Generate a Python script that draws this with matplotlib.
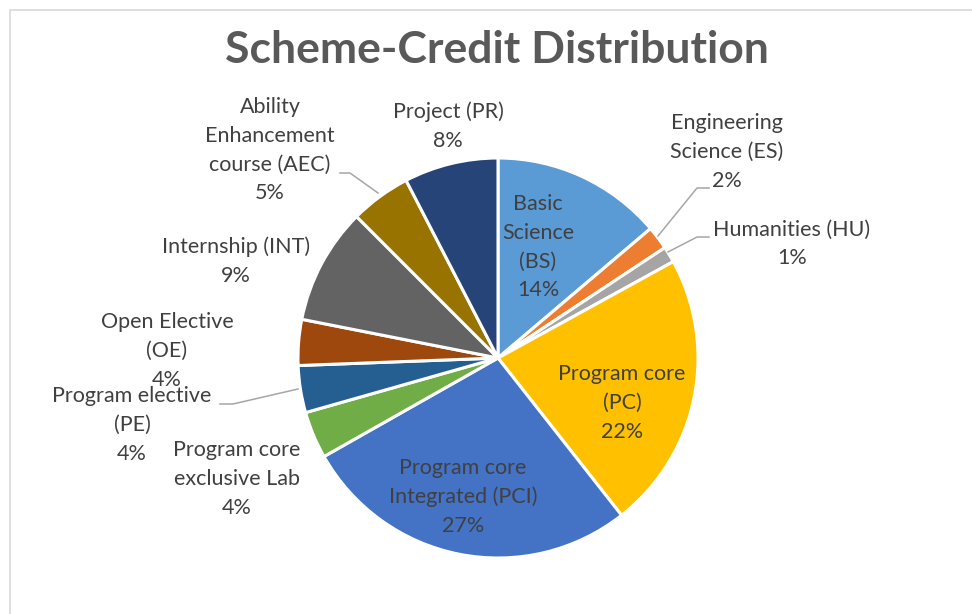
import matplotlib
matplotlib.use("Agg")
import matplotlib.pyplot as plt
from matplotlib.patches import Rectangle

# ---- data ----
categories = ["Basic\nScience\n(BS)", "Engineering\nScience (ES)", "Humanities (HU)",
              "Program core\n(PC)", "Program core\nIntegrated (PCI)",
              "Program core\nexclusive Lab", "Program elective\n(PE)",
              "Open Elective\n(OE)", "Internship (INT)",
              "Ability\nEnhancement\ncourse (AEC)", "Project (PR)"]
shares = [13.8, 1.9, 1.3, 22.4, 27.4, 3.8, 3.8, 3.7, 9.4, 4.9, 7.6]
colors = ["#5B9BD5", "#ED7D31", "#A5A5A5", "#FFC000", "#4472C4", "#70AD47",
          "#255E91", "#9E480E", "#636363", "#997300", "#264478"]

# ---- layout (pixel positions of label centres, leader lines) ----
W, H = 972, 614
CX, CY, R = 498, 358, 200
label_px = [(538, 247), (727, 152), (792, 244), (622, 403), (463, 497),
            (237, 479), (132, 425), (167, 351), (236, 261), (270, 150), (448, 126)]
leaders = {1: [(658, 236), (697, 188), (709, 188)],
           2: [(668, 252), (697, 237), (709, 237)],
           6: [(298, 389), (233, 404), (220, 404)],
           9: [(378, 193), (350, 173), (340, 173)]}

fontname = "Lato"
txt_color = "#404040"

fig = plt.figure(figsize=(W / 100, H / 100), dpi=100)
fig.patches.append(Rectangle((10 / W, -0.1), 1.2, 1 - 10 / H + 0.1, transform=fig.transFigure,
                             fill=False, edgecolor="#D9D9D9", linewidth=1.2))

ax = fig.add_axes([(CX - R) / W, (H - CY - R) / H, 2 * R / W, 2 * R / H])
ax.pie(shares, colors=colors, startangle=90, counterclock=False, radius=1,
       wedgeprops=dict(edgecolor="white", linewidth=2.2))
ax.set_xlim(-1, 1)
ax.set_ylim(-1, 1)
ax.set_aspect("auto")
ax.axis("off")

def to_data(p):
    return ((p[0] - CX) / R, (CY - p[1]) / R)

total = sum(shares)
for i, (cat, v) in enumerate(zip(categories, shares)):
    pct = f"{round(v / total * 100):d}%"
    x, y = to_data(label_px[i])
    ax.text(x, y, f"{cat}\n{pct}", ha="center", va="center", fontsize=15.5,
            fontname=fontname, color=txt_color, linespacing=1.55, clip_on=False)

for i, pts in leaders.items():
    xs, ys = zip(*[to_data(p) for p in pts])
    ax.plot(xs, ys, color="#A6A6A6", linewidth=1.1, clip_on=False)

fig.text(497 / W, 1 - 50 / H, "Scheme-Credit Distribution", ha="center", va="center",
         fontsize=32, fontweight="bold", fontname=fontname, color="#595959")

fig.savefig("out.png", dpi=100, facecolor="white")
